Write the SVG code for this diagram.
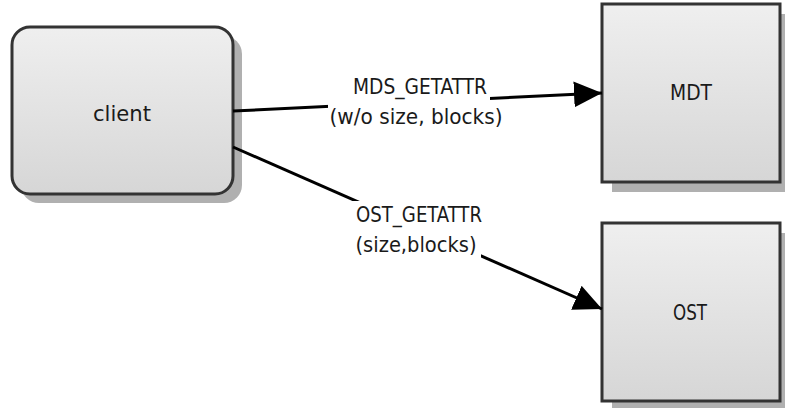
<svg xmlns="http://www.w3.org/2000/svg" width="785" height="408" viewBox="0 0 785 408">
  <style>
    .box { fill: url(#boxFill); stroke: #333; stroke-width: 3; }
    .shadow { fill: #b0b0b0; }
    .lbl { font-family: "DejaVu Sans Condensed", "DejaVu Sans", sans-serif; font-stretch: condensed; font-size: 22px; fill: #1a1a1a; text-anchor: middle; }
    .edge { fill: none; stroke: #000; stroke-width: 3; }
    .bg { fill: #fff; }
  </style>
  <defs>
    <linearGradient id="boxFill" x1="0" y1="0" x2="0" y2="1">
      <stop offset="0" stop-color="#efefef"/>
      <stop offset="1" stop-color="#d6d6d6"/>
    </linearGradient>
    <marker id="arrow" viewBox="0 0 28 28" refX="28" refY="14" markerWidth="28" markerHeight="28" markerUnits="userSpaceOnUse" orient="auto">
      <path d="M0,1 L28,14 L0,27 Z" fill="#000"/>
    </marker>
  </defs>

  <rect width="785" height="408" fill="#fff"/>

  <g id="client">
    <rect class="shadow" x="21" y="36" width="221" height="167" rx="18"/>
    <rect class="box" x="12" y="27" width="221" height="167" rx="18"/>
    <text class="lbl" x="122" y="121" textLength="58" lengthAdjust="spacingAndGlyphs">client</text>
  </g>

  <g id="mdt">
    <rect class="shadow" x="612" y="14" width="178" height="178"/>
    <rect class="box" x="602" y="4" width="178" height="178"/>
    <text class="lbl" x="691" y="100" textLength="42" lengthAdjust="spacingAndGlyphs">MDT</text>
  </g>

  <g id="ost">
    <rect class="shadow" x="612" y="233" width="178" height="178"/>
    <rect class="box" x="602" y="223" width="178" height="178"/>
    <text class="lbl" x="690" y="320" textLength="34" lengthAdjust="spacingAndGlyphs">OST</text>
  </g>

  <g id="connectors">
    <g id="edge-mds-getattr">
      <path class="edge" d="M233,111 L602,93" marker-end="url(#arrow)"/>
      <rect class="bg" x="350" y="73" width="140" height="28"/>
      <rect class="bg" x="328" y="101" width="178" height="30"/>
      <text class="lbl" x="420" y="94" textLength="134" lengthAdjust="spacingAndGlyphs">MDS_GETATTR</text>
      <text class="lbl" x="416" y="124" textLength="173" lengthAdjust="spacingAndGlyphs">(w/o size, blocks)</text>
    </g>
    <g id="edge-ost-getattr">
      <path class="edge" d="M233,147 L602,309" marker-end="url(#arrow)"/>
      <rect class="bg" x="350" y="201" width="136" height="27"/>
      <rect class="bg" x="350" y="228" width="131" height="30"/>
      <text class="lbl" x="419" y="222" textLength="126" lengthAdjust="spacingAndGlyphs">OST_GETATTR</text>
      <text class="lbl" x="416" y="252" textLength="121" lengthAdjust="spacingAndGlyphs">(size,blocks)</text>
    </g>
  </g>
</svg>
